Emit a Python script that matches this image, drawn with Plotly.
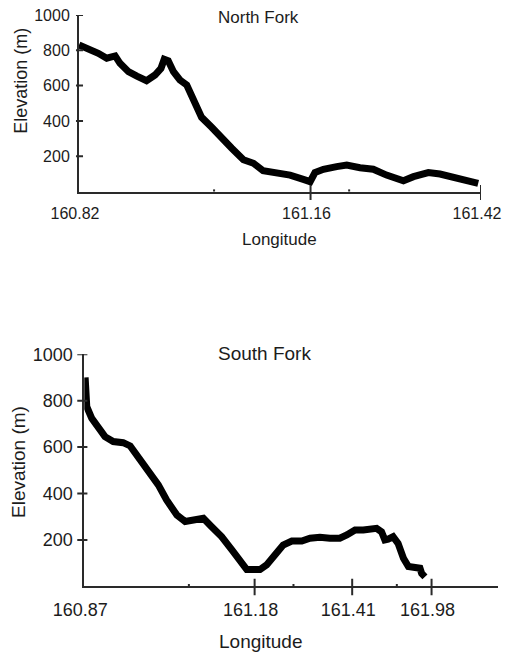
import plotly.graph_objects as go

# ---- North Fork profile: position along the profile (0-100 %) and elevation (m)
north_pos = [0, 2.3, 4.8, 6.9, 9.0, 10.2, 12.3, 14.4, 16.8, 18.9, 20.4, 21.2, 22.2,
             23.5, 25.1, 26.8, 28.0, 29.3, 30.5, 33.0, 35.5, 38.0, 40.9, 43.4, 45.8,
             49.2, 52.5, 55.8, 57.5, 58.7, 60.8, 64.1, 66.6, 69.9, 73.2, 76.5, 80.7,
             83.2, 86.9, 89.8, 93.1, 96.4, 99.3]
north_elev = [830, 811, 783, 755, 768, 726, 679, 654, 628, 660, 698, 749, 741,
              679, 632, 603, 547, 471, 420, 364, 301, 245, 180, 160, 118,
              107, 93, 69, 56, 107, 126, 141, 150, 135, 126, 93, 61,
              84, 107, 99, 84, 61, 46]

# ---- South Fork profile
south_pos = [0.2, 0.4, 0.6, 1.8, 3.4, 5.0, 7.0, 9.4, 11.1, 13.1, 15.5, 17.9, 19.9,
             22.4, 24.4, 26.8, 28.8, 30.8, 33.2, 35.7, 38.1, 39.3, 42.5, 44.1, 46.1,
             48.1, 50.2, 52.6, 54.6, 57.0, 59.4, 61.8, 63.5, 65.5, 67.5, 69.1, 70.7,
             71.9, 72.7, 73.5, 74.7, 75.9, 77.2, 78.4, 80.0, 81.2, 81.6, 82.4]
south_elev = [900, 832, 774, 724, 681, 645, 624, 619, 605, 559, 494, 437, 372,
              307, 279, 283, 293, 257, 214, 157, 106, 72, 72, 92, 135,
              178, 195, 195, 207, 211, 207, 207, 221, 243, 243, 246, 250,
              235, 200, 203, 214, 185, 121, 85, 78, 78, 56, 41]

# ---- axis ticks
north_xtick_pos = [0, 57.6, 100]
north_xtick_text = ["160.82", "161.16", "161.42"]
north_minor_pos = [33.6, 67.2]

south_xtick_pos = [0, 41.2, 64.8, 84.0]
south_xtick_text = ["160.87", "161.18", "161.41", "161.98"]
south_minor_pos = [25.3, 50.6, 75.6]

elev_ticks = [200, 400, 600, 800, 1000]

W, H = 506, 654
FONT = "Liberation Sans, Arial, Helvetica, sans-serif"
INK = "#1c1c1c"
AXIS = "#2a2a2a"

fig = go.Figure()
fig.add_trace(go.Scatter(x=north_pos, y=north_elev, mode="lines",
                         line=dict(color="black", width=7), xaxis="x", yaxis="y",
                         showlegend=False, hoverinfo="skip"))
fig.add_trace(go.Scatter(x=south_pos, y=south_elev, mode="lines",
                         line=dict(color="black", width=7), xaxis="x2", yaxis="y2",
                         showlegend=False, hoverinfo="skip"))

def xaxis(domain, tickvals, ticktext, size, anchor):
    return dict(domain=domain, range=[0, 100], anchor=anchor, tickmode="array",
                tickvals=tickvals, ticktext=ticktext, ticks="", showgrid=False,
                zeroline=False, showline=True, linecolor=AXIS, linewidth=2,
                automargin=False,
                tickfont=dict(family=FONT, size=size, color=INK),
                ticklabelshift=-4, ticklabelstandoff=6, fixedrange=True)

def yaxis(domain, size, anchor, standoff):
    return dict(domain=domain, range=[0, 1000], anchor=anchor, tickmode="array",
                tickvals=elev_ticks, ticks="", showgrid=False, zeroline=False,
                showline=True, linecolor=AXIS, linewidth=2, automargin=False,
                tickfont=dict(family=FONT, size=size, color=INK),
                ticklabelstandoff=standoff, fixedrange=True)

fig.update_layout(
    template="none",
    width=W, height=H, autosize=False,
    margin=dict(l=0, r=0, t=0, b=0, pad=0),
    paper_bgcolor="white", plot_bgcolor="white",
    xaxis=xaxis([79 / W, 481 / W], north_xtick_pos, north_xtick_text, 16, "y"),
    yaxis=yaxis([1 - 191.5 / H, 1 - 15 / H], 16, "x", 4),
    xaxis2=xaxis([84.3 / W, 497.7 / W], south_xtick_pos, south_xtick_text, 18, "y2"),
    yaxis2=yaxis([1 - 586.3 / H, 1 - 354.3 / H], 18, "x2", 6),
)

shapes = []
tick_line = dict(color=AXIS, width=2)
# major x ticks cross the baseline (none at the origin)
for v in north_xtick_pos[1:]:
    shapes.append(dict(type="line", xref="x", yref="y domain", x0=v, x1=v,
                       y0=-0.048, y1=0.037, line=tick_line))
for v in south_xtick_pos[1:]:
    shapes.append(dict(type="line", xref="x2", yref="y2 domain", x0=v, x1=v,
                       y0=-0.039, y1=0.033, line=tick_line))
# small minor marks on the baselines
for v in north_minor_pos:
    shapes.append(dict(type="line", xref="x", yref="y domain", x0=v, x1=v,
                       y0=0, y1=0.012, line=dict(color=AXIS, width=2)))
for v in south_minor_pos:
    shapes.append(dict(type="line", xref="x2", yref="y2 domain", x0=v, x1=v,
                       y0=0, y1=0.01, line=dict(color=AXIS, width=2)))
# elevation ticks crossing the vertical axis
for v in elev_ticks:
    shapes.append(dict(type="line", xref="x domain", yref="y", x0=-0.0075, x1=0.01,
                       y0=v, y1=v, line=tick_line))
    shapes.append(dict(type="line", xref="x2 domain", yref="y2", x0=-0.017, x1=0.0075,
                       y0=v, y1=v, line=tick_line))
fig.update_layout(shapes=shapes)

def label(text, x, y, size, angle=0):
    return dict(text=text, x=x / W, y=1 - y / H, xref="paper", yref="paper",
                xanchor="center", yanchor="middle", showarrow=False, textangle=angle,
                font=dict(family=FONT, size=size, color=INK))

fig.update_layout(annotations=[
    label("North Fork", 258.8, 17.5, 17),
    label("Longitude", 279.2, 239, 17),
    label("Elevation (m)", 20.7, 81, 18, -90),
    label("South Fork", 264, 353.5, 19),
    label("Longitude", 260.8, 641.5, 19),
    label("Elevation (m)", 18.3, 461.7, 19, -90),
])

fig.write_html("out.html", config={"displayModeBar": False})
